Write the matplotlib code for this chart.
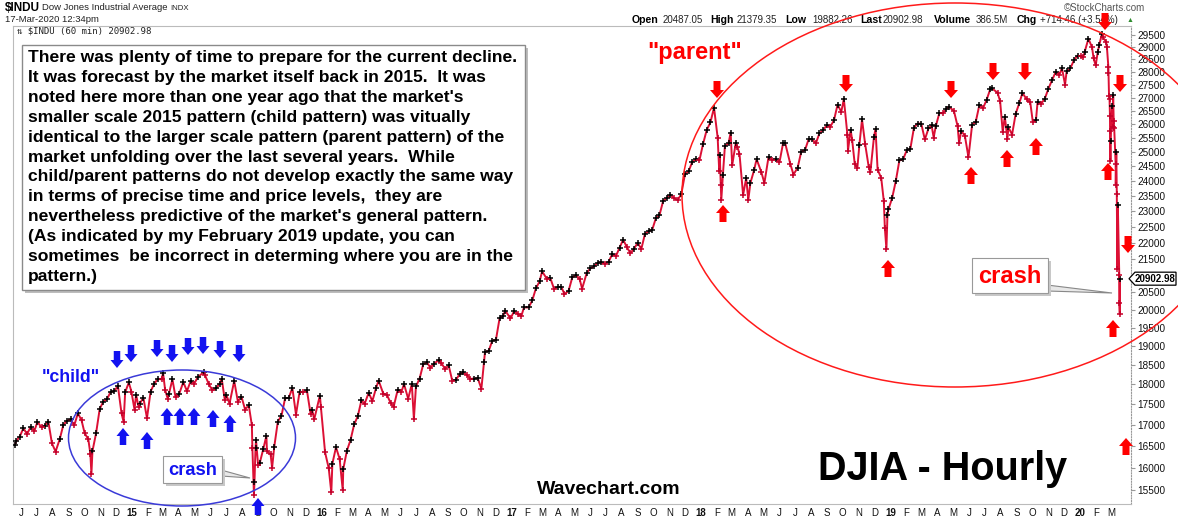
import matplotlib
matplotlib.use("Agg")
import matplotlib.pyplot as plt
from matplotlib.patches import Ellipse, Rectangle, Polygon
from matplotlib.ticker import FixedLocator, NullLocator
import pandas as pd
import numpy as np

plt.rcParams['font.family'] = ['Liberation Sans', 'DejaVu Sans']

# ---------------- data (approximate hourly closes) ----------------
dj_2014 = [("2014-05-21", 16530), ("2014-05-23", 16610), ("2014-05-30", 16720), ("2014-06-06", 16920),
           ("2014-06-13", 16780), ("2014-06-20", 16950), ("2014-06-27", 16850), ("2014-07-03", 17070),
           ("2014-07-11", 16940), ("2014-07-17", 16980), ("2014-07-24", 17080), ("2014-07-31", 16560),
           ("2014-08-07", 16370), ("2014-08-15", 16660), ("2014-08-22", 17000), ("2014-08-29", 17100),
           ("2014-09-05", 17130), ("2014-09-12", 16990), ("2014-09-19", 17280), ("2014-09-26", 17110),
           ("2014-10-02", 16800), ("2014-10-09", 16660), ("2014-10-13", 16320), ("2014-10-15", 15860),
           ("2014-10-17", 16380), ("2014-10-24", 16800), ("2014-10-31", 17390), ("2014-11-07", 17570),
           ("2014-11-14", 17630), ("2014-11-21", 17810), ("2014-11-28", 17830), ("2014-12-05", 17960),
           ("2014-12-12", 17280), ("2014-12-16", 17070), ("2014-12-19", 17800), ("2014-12-26", 18050),
           ("2014-12-31", 17820)]
dj_2015 = [("2015-01-06", 17370), ("2015-01-09", 17740), ("2015-01-14", 17430), ("2015-01-16", 17510),
           ("2015-01-23", 17670), ("2015-01-30", 17160), ("2015-02-06", 17820), ("2015-02-13", 18020),
           ("2015-02-20", 18140), ("2015-02-27", 18130), ("2015-03-02", 18290), ("2015-03-06", 17860),
           ("2015-03-11", 17640), ("2015-03-13", 17750), ("2015-03-20", 18130), ("2015-03-26", 17680),
           ("2015-04-02", 17760), ("2015-04-10", 18060), ("2015-04-17", 17830), ("2015-04-24", 18080),
           ("2015-05-01", 18020), ("2015-05-08", 18190), ("2015-05-19", 18310), ("2015-05-22", 18230),
           ("2015-05-29", 18010), ("2015-06-05", 17850), ("2015-06-12", 17900), ("2015-06-19", 18020),
           ("2015-06-23", 18140), ("2015-06-29", 17600), ("2015-07-02", 17730), ("2015-07-08", 17520),
           ("2015-07-17", 18090), ("2015-07-24", 17570), ("2015-07-31", 17690), ("2015-08-07", 17370),
           ("2015-08-14", 17480), ("2015-08-20", 16990), ("2015-08-21", 16460), ("2015-08-24", 15400),
           ("2015-08-25", 15670), ("2015-08-27", 16450), ("2015-08-28", 16640), ("2015-09-01", 16060),
           ("2015-09-04", 16100), ("2015-09-11", 16430), ("2015-09-17", 16740), ("2015-09-18", 16380),
           ("2015-09-25", 16310), ("2015-09-28", 16000), ("2015-10-02", 16470), ("2015-10-09", 17080),
           ("2015-10-16", 17220), ("2015-10-23", 17650), ("2015-10-30", 17660), ("2015-11-06", 17910),
           ("2015-11-13", 17250), ("2015-11-20", 17820), ("2015-11-27", 17800), ("2015-12-04", 17850),
           ("2015-12-11", 17270), ("2015-12-14", 17370), ("2015-12-18", 17130), ("2015-12-29", 17720),
           ("2015-12-31", 17425)]
dj_2016 = [("2016-01-08", 16350), ("2016-01-15", 15990), ("2016-01-20", 15450), ("2016-01-22", 16090),
           ("2016-01-29", 16470), ("2016-02-05", 16200), ("2016-02-11", 15500), ("2016-02-12", 15970),
           ("2016-02-19", 16390), ("2016-02-26", 16640), ("2016-03-04", 17010), ("2016-03-11", 17210),
           ("2016-03-18", 17600), ("2016-03-24", 17510), ("2016-04-01", 17790), ("2016-04-08", 17580),
           ("2016-04-15", 17900), ("2016-04-20", 18100), ("2016-04-29", 17770), ("2016-05-06", 17740),
           ("2016-05-13", 17540), ("2016-05-19", 17440), ("2016-05-27", 17870), ("2016-06-03", 17810),
           ("2016-06-08", 18010), ("2016-06-16", 17640), ("2016-06-23", 18010), ("2016-06-27", 17140),
           ("2016-07-01", 17950), ("2016-07-08", 18150), ("2016-07-15", 18520), ("2016-07-22", 18570),
           ("2016-07-29", 18430), ("2016-08-05", 18540), ("2016-08-15", 18640), ("2016-08-19", 18550),
           ("2016-08-26", 18400), ("2016-09-02", 18490), ("2016-09-09", 18090), ("2016-09-16", 18120),
           ("2016-09-23", 18260), ("2016-09-30", 18310), ("2016-10-07", 18240), ("2016-10-14", 18140),
           ("2016-10-21", 18150), ("2016-10-28", 18160), ("2016-11-04", 17890), ("2016-11-09", 18590),
           ("2016-11-11", 18850), ("2016-11-18", 18870), ("2016-11-25", 19150), ("2016-12-02", 19170),
           ("2016-12-09", 19760), ("2016-12-16", 19840), ("2016-12-20", 19980), ("2016-12-30", 19760)]
dj_2017 = [("2017-01-06", 19960), ("2017-01-13", 19890), ("2017-01-20", 19830), ("2017-01-25", 20070),
           ("2017-02-03", 20070), ("2017-02-10", 20270), ("2017-02-17", 20620), ("2017-02-24", 20820),
           ("2017-03-01", 21120), ("2017-03-10", 20900), ("2017-03-17", 20910), ("2017-03-24", 20600),
           ("2017-03-31", 20660), ("2017-04-07", 20660), ("2017-04-13", 20450), ("2017-04-21", 20550),
           ("2017-04-28", 20940), ("2017-05-05", 21010), ("2017-05-12", 20900), ("2017-05-17", 20610),
           ("2017-05-26", 21080), ("2017-06-02", 21210), ("2017-06-09", 21270), ("2017-06-16", 21380),
           ("2017-06-23", 21390), ("2017-06-30", 21350), ("2017-07-07", 21410), ("2017-07-14", 21640),
           ("2017-07-21", 21580), ("2017-07-28", 21830), ("2017-08-04", 22090), ("2017-08-11", 21860),
           ("2017-08-18", 21670), ("2017-08-25", 21810), ("2017-09-01", 21990), ("2017-09-08", 21800),
           ("2017-09-15", 22270), ("2017-09-22", 22350), ("2017-09-29", 22400), ("2017-10-06", 22770),
           ("2017-10-13", 22870), ("2017-10-20", 23330), ("2017-10-27", 23430), ("2017-11-03", 23540),
           ("2017-11-10", 23420), ("2017-11-17", 23360), ("2017-11-24", 23560), ("2017-12-01", 24230),
           ("2017-12-08", 24330), ("2017-12-15", 24650), ("2017-12-22", 24750), ("2017-12-29", 24720)]
dj_2018 = [("2018-01-05", 25300), ("2018-01-12", 25800), ("2018-01-19", 26070), ("2018-01-26", 26620),
           ("2018-02-02", 25520), ("2018-02-05", 24350), ("2018-02-06", 24910), ("2018-02-08", 23860),
           ("2018-02-09", 23360), ("2018-02-12", 24190), ("2018-02-16", 25220), ("2018-02-23", 25310),
           ("2018-02-27", 25700), ("2018-03-02", 24540), ("2018-03-09", 25340), ("2018-03-12", 25180),
           ("2018-03-16", 24950), ("2018-03-23", 23530), ("2018-03-29", 24100), ("2018-04-02", 23360),
           ("2018-04-06", 23930), ("2018-04-13", 24360), ("2018-04-18", 24750), ("2018-04-27", 24310),
           ("2018-05-03", 23930), ("2018-05-11", 24830), ("2018-05-18", 24720), ("2018-05-25", 24750),
           ("2018-06-01", 24640), ("2018-06-08", 25320), ("2018-06-12", 25320), ("2018-06-22", 24580),
           ("2018-06-28", 24220), ("2018-07-06", 24450), ("2018-07-13", 25020), ("2018-07-20", 25060),
           ("2018-07-27", 25450), ("2018-08-03", 25460), ("2018-08-10", 25310), ("2018-08-17", 25670),
           ("2018-08-24", 25790), ("2018-08-31", 25960), ("2018-09-07", 25920), ("2018-09-14", 26150),
           ("2018-09-21", 26740), ("2018-09-28", 26460), ("2018-10-03", 26950), ("2018-10-10", 25600),
           ("2018-10-11", 25050), ("2018-10-16", 25800), ("2018-10-19", 25440), ("2018-10-24", 24580),
           ("2018-10-29", 24440), ("2018-11-02", 25270), ("2018-11-07", 26180), ("2018-11-13", 25290),
           ("2018-11-20", 24470), ("2018-11-23", 24290), ("2018-11-30", 25540), ("2018-12-03", 25830),
           ("2018-12-07", 24390), ("2018-12-14", 24100), ("2018-12-19", 23320), ("2018-12-21", 22450),
           ("2018-12-24", 21790), ("2018-12-26", 22880), ("2018-12-28", 23060)]
dj_2019 = [("2019-01-04", 23430), ("2019-01-11", 23990), ("2019-01-18", 24710), ("2019-01-25", 24740),
           ("2019-02-01", 25060), ("2019-02-08", 25110), ("2019-02-15", 25880), ("2019-02-22", 26030),
           ("2019-03-01", 26030), ("2019-03-08", 25450), ("2019-03-15", 25850), ("2019-03-21", 25960),
           ("2019-03-25", 25520), ("2019-03-29", 25930), ("2019-04-05", 26420), ("2019-04-12", 26410),
           ("2019-04-18", 26560), ("2019-04-23", 26660), ("2019-05-03", 26500), ("2019-05-10", 25940),
           ("2019-05-13", 25320), ("2019-05-17", 25760), ("2019-05-24", 25590), ("2019-05-31", 24820),
           ("2019-06-07", 25980), ("2019-06-14", 26090), ("2019-06-21", 26720), ("2019-06-28", 26600),
           ("2019-07-05", 26920), ("2019-07-12", 27330), ("2019-07-15", 27360), ("2019-07-26", 27190),
           ("2019-07-31", 26860), ("2019-08-05", 25720), ("2019-08-09", 26290), ("2019-08-14", 25480),
           ("2019-08-16", 25890), ("2019-08-23", 25630), ("2019-08-30", 26400), ("2019-09-06", 26800),
           ("2019-09-12", 27180), ("2019-09-20", 26940), ("2019-09-27", 26820), ("2019-10-02", 26080),
           ("2019-10-08", 26160), ("2019-10-11", 26820), ("2019-10-18", 26770), ("2019-10-25", 26960),
           ("2019-11-01", 27350), ("2019-11-08", 27680), ("2019-11-15", 28000), ("2019-11-22", 27880),
           ("2019-11-27", 28160), ("2019-12-03", 27500), ("2019-12-06", 28020), ("2019-12-13", 28140),
           ("2019-12-20", 28460), ("2019-12-27", 28650)]
dj_2020 = [("2020-01-03", 28630), ("2020-01-07", 28580), ("2020-01-10", 28820), ("2020-01-17", 29350),
           ("2020-01-24", 28990), ("2020-01-27", 28540), ("2020-01-31", 28260), ("2020-02-04", 28810),
           ("2020-02-07", 29100), ("2020-02-12", 29550), ("2020-02-14", 29400), ("2020-02-20", 29220),
           ("2020-02-21 16:00", 28990), ("2020-02-24 10:00", 28200), ("2020-02-24 16:00", 27960),
           ("2020-02-25 16:00", 27080), ("2020-02-26 16:00", 26960), ("2020-02-27 12:00", 26300),
           ("2020-02-27 16:00", 25770), ("2020-02-28 10:00", 24680), ("2020-02-28 16:00", 25410),
           ("2020-03-02 16:00", 26700), ("2020-03-03 16:00", 25920), ("2020-03-04 16:00", 27090),
           ("2020-03-05 16:00", 26120), ("2020-03-06 16:00", 25860), ("2020-03-09 10:00", 24600),
           ("2020-03-09 16:00", 23850), ("2020-03-10 16:00", 25020), ("2020-03-11 16:00", 23550),
           ("2020-03-12 16:00", 21200), ("2020-03-13 16:00", 23190), ("2020-03-16 10:00", 21000),
           ("2020-03-16 16:00", 20190), ("2020-03-17 10:00", 19880), ("2020-03-17 12:34", 20903)]

y_ticks = list(range(15500, 30000, 500))
hidden_tick = 21000          # covered by the last-price tag in the reference
last_price = "20902.98"
month_initials = ["J", "F", "M", "A", "M", "J", "J", "A", "S", "O", "N", "D"]

header_stats = [("Open", "20487.05"), ("High", "21379.35"), ("Low", "19882.26"),
                ("Last", "20902.98"), ("Volume", "386.5M"), ("Chg", "+714.46 (+3.54%)")]

# ---------------- figure ----------------
W, H = 1178, 519
fig = plt.figure(figsize=(W / 100, H / 100), dpi=100)
fig.patch.set_facecolor("white")

L, R, T, B = 13, 1131, 26, 504
ax = fig.add_axes([L / W, (H - B) / H, (R - L) / W, (B - T) / H])

records = dj_2014 + dj_2015 + dj_2016 + dj_2017 + dj_2018 + dj_2019 + dj_2020
dates = pd.to_datetime([d for d, _ in records], format="mixed")
vals = np.array([v for _, v in records], dtype=float)

ax.plot(dates, vals, color="#dc1035", lw=1.4, zorder=2)
up = np.r_[True, vals[1:] >= vals[:-1]]
ax.plot(dates[up], vals[up], ls="none", marker="+", ms=4.2, mew=1.1, color="black", zorder=3)
ax.plot(dates[~up], vals[~up], ls="none", marker="+", ms=4.2, mew=1.1, color="#c4002a", zorder=3)

ax.set_yscale("log")
ax.set_ylim(15200, 29880)
ax.set_xlim(pd.Timestamp("2014-05-17"), pd.Timestamp("2020-04-08"))
ax.yaxis.tick_right()
ax.yaxis.set_major_locator(FixedLocator(y_ticks))
ax.yaxis.set_minor_locator(NullLocator())
ax.set_yticklabels(["" if t == hidden_tick else str(t) for t in y_ticks])
ax.tick_params(axis="y", which="major", length=3, width=0.8, color="#999999",
               labelsize=7.2, pad=1.5, labelcolor="#111111")

# month ticks
mstarts = pd.date_range("2014-06-01", "2020-03-01", freq="MS")
ax.set_xticks(mstarts)
labels = [(f"{m.year % 100:02d}" if m.month == 1 else month_initials[m.month - 1]) for m in mstarts]
ax.set_xticklabels(labels)
for lab, m in zip(ax.get_xticklabels(), mstarts):
    if m.month == 1:
        lab.set_fontweight("bold")
        lab.set_fontsize(8)
ax.tick_params(axis="x", length=0, labelsize=7, pad=3, labelcolor="#111111")
ax.xaxis.set_minor_locator(NullLocator())

for s in ["left", "bottom", "top"]:
    ax.spines[s].set_color("#bbbbbb")
    ax.spines[s].set_linewidth(0.8)
ax.spines["right"].set_linestyle((0, (1, 1.5)))
ax.spines["right"].set_color("#999999")
ax.spines["right"].set_linewidth(0.8)

# ---------------- overlay in pixel coords ----------------
ov = fig.add_axes([0, 0, 1, 1], facecolor="none")
ov.set_xlim(0, W)
ov.set_ylim(H, 0)
ov.axis("off")

# header
ov.text(5, 8, "$INDU", fontsize=8.5, fontweight="bold", va="center", ha="left")
ov.text(42, 8, "Dow Jones Industrial Average", fontsize=6.8, va="center", ha="left", color="#222222")
ov.text(170, 8.5, "INDX", fontsize=5.6, va="center", ha="left", color="#222222")
ov.text(5, 19.5, "17-Mar-2020 12:34pm", fontsize=6.8, va="center", ha="left", color="#222222")
ov.text(17, 31, "\u21c5 $INDU (60 min) 20902.98", fontsize=6.5, va="center", ha="left",
        family=["DejaVu Sans Mono"], color="#222222")
ov.text(1145, 8, "\u00a9StockCharts.com", fontsize=7, va="center", ha="right", color="#555555")

# stats line
lbl_x = [632, 710, 785, 860, 934, 1017]
val_x = [663, 737, 812, 883, 976, 1040]
for (lbl, val), lx, vx in zip(header_stats, lbl_x, val_x):
    ov.text(lx, 20, lbl, fontsize=7.6, fontweight="bold", va="center", ha="left")
    ov.text(vx, 20, val, fontsize=7.0, va="center", ha="left", color="#222222")
ov.text(1130, 20, "\u25b2", fontsize=5, va="center", ha="center", color="#2e8b2e")

# text box
ov.add_patch(Rectangle((25, 48), 503, 245, facecolor="#bdbdbd", edgecolor="none", zorder=4))
ov.add_patch(Rectangle((22, 45), 503, 245, facecolor="white", edgecolor="#8a8a8a", lw=1.0, zorder=5))
para = ("There was plenty of time to prepare for the current decline.\n"
        "It was forecast by the market itself back in 2015.  It was\n"
        "noted here more than one year ago that the market's\n"
        "smaller scale 2015 pattern (child pattern) was vitually\n"
        "identical to the larger scale pattern (parent pattern) of the\n"
        "market unfolding over the last several years.  While\n"
        "child/parent patterns do not develop exactly the same way\n"
        "in terms of precise time and price levels,  they are\n"
        "nevertheless predictive of the market's general pattern.\n"
        "(As indicated by my February 2019 update, you can\n"
        "sometimes  be incorrect in determing where you are in the\n"
        "pattern.)")
ov.text(28, 167, para, fontsize=12.6, fontweight="bold", va="center", ha="left",
        linespacing=1.41, zorder=6)

# ellipses
ov.add_patch(Ellipse((955, 195), 546, 384, fill=False, ec="#ff1a1a", lw=1.1, zorder=7))
ov.add_patch(Ellipse((182, 438), 227, 136, fill=False, ec="#3a3ad8", lw=1.1, zorder=7))


def block_arrow(x, tip, direction, color, w=14, s=7, hl=8, ln=17):
    d = 1 if direction == "down" else -1
    pts = [(x, tip), (x - w / 2, tip - d * hl), (x - s / 2, tip - d * hl), (x - s / 2, tip - d * ln),
           (x + s / 2, tip - d * ln), (x + s / 2, tip - d * hl), (x + w / 2, tip - d * hl)]
    ov.add_patch(Polygon(pts, closed=True, facecolor=color, edgecolor="none", zorder=8))


blue = "#1212f0"
red = "#ff0000"
for bx, bt in [(117, 368), (131, 362), (157, 357), (172, 362), (188, 355), (203, 354), (220, 358), (239, 362)]:
    block_arrow(bx, bt, "down", blue, w=13, s=6.5, hl=8, ln=17)
for bx, bt in [(123, 428), (147, 432), (167, 408), (180, 408), (194, 408), (213, 410), (230, 415), (258, 498)]:
    block_arrow(bx, bt, "up", blue, w=13, s=6.5, hl=8, ln=17)
for rx, rt in [(717, 98), (846, 92), (951, 98), (993, 80), (1025, 80), (1105, 30), (1120, 92), (1128, 253)]:
    block_arrow(rx, rt, "down", red)
for rx, rt in [(723, 205), (888, 260), (971, 167), (1007, 150), (1036, 138), (1108, 163), (1113, 320), (1126, 438)]:
    block_arrow(rx, rt, "up", red)

# labels
ov.text(71, 378, '"child"', fontsize=12.8, fontweight="bold", color=blue, ha="center", va="center", zorder=9)
ov.text(695, 52, '"parent"', fontsize=17, fontweight="bold", color=red, ha="center", va="center", zorder=9)


def callout(x0, y0, x1, y1, tx, ty, txt, color, fs):
    ov.add_patch(Polygon([(x1 - 1, ty - 2), (x1 - 1, ty + 4), (tx, ty + 6)], closed=True,
                         facecolor="#e8e8e8", edgecolor="#888888", lw=0.8, zorder=9))
    ov.add_patch(Rectangle((x0 + 3, y0 + 3), x1 - x0, y1 - y0, facecolor="#c8c8c8", edgecolor="none", zorder=9))
    ov.add_patch(Rectangle((x0, y0), x1 - x0, y1 - y0, facecolor="white", edgecolor="#999999", lw=0.8, zorder=10))
    ov.text((x0 + x1) / 2, (y0 + y1) / 2 + 1, txt, fontsize=fs, fontweight="bold", color=color,
            ha="center", va="center", zorder=11)


callout(163, 456, 222, 483, 250, 472, "crash", blue, 13.2)
callout(972, 258, 1048, 293, 1112, 287, "crash", red, 17)

ov.text(943, 469, "DJIA - Hourly", fontsize=28.5, fontweight="bold", ha="center", va="center", zorder=9)
ov.text(609, 489, "Wavechart.com", fontsize=14, fontweight="bold", ha="center", va="center", zorder=9)

# last price tag, at the last price on the axis scale
last_y = H - ax.transData.transform((ax.get_xlim()[0], float(last_price)))[1]
ov.add_patch(Polygon([(1129, last_y), (1135, last_y - 6.5), (1176, last_y - 6.5), (1176, last_y + 6.5),
                      (1135, last_y + 6.5)], closed=True, facecolor="white", edgecolor="black",
                     lw=0.9, zorder=12))
ov.text(1155.5, last_y + 0.5, last_price, fontsize=7, fontweight="bold", ha="center", va="center", zorder=13)

fig.savefig("out.png", dpi=100)
